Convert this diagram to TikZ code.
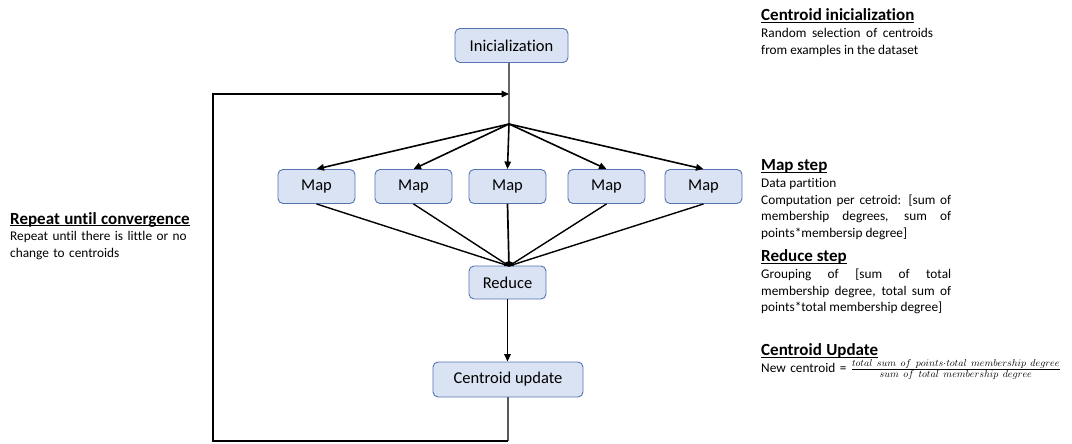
\documentclass[tikz,border=0pt]{standalone}
\usepackage{fontspec}
\setmainfont{Carlito}[Ligatures=NoCommon]
\usetikzlibrary{arrows.meta}
\definecolor{boxfill}{RGB}{218,227,243}
\definecolor{boxline}{RGB}{84,116,176}
\newcommand{\ultitle}[1]{\setbox0\hbox{\fontsize{17}{21}\selectfont\bfseries #1}\rlap{\rule[-2.4pt]{\wd0}{1.4pt}}\box0}

\begin{document}
\begin{tikzpicture}[x=1pt,y=1pt,
  stepbox/.style={draw=boxline,fill=boxfill,line width=0.9pt,rounded corners=5pt,
    minimum height=34pt,inner sep=0pt,font=\fontsize{16.5}{20}\selectfont},
  flow/.style={line width=1.6pt,-{Triangle[length=7.5pt,width=6.5pt]}},
  note/.style={anchor=base west,inner sep=0pt,text width=#1,align=justify,
    font=\fontsize{13.3}{16.7}\selectfont}]
\useasboundingbox (0,0) rectangle (1072,-444);

\node[stepbox,minimum width=113pt] (init) at (511.5,-45.5) {Inicialization};
\node[stepbox,minimum width=77pt] (map1) at (316.5,-186.5) {Map};
\node[stepbox,minimum width=77pt] (map2) at (413.5,-186.5) {Map};
\node[stepbox,minimum width=77pt] (map3) at (507.5,-186.5) {Map};
\node[stepbox,minimum width=77pt] (map4) at (606.5,-186.5) {Map};
\node[stepbox,minimum width=77pt] (map5) at (703.5,-186.5) {Map};
\node[stepbox,minimum width=77pt,minimum height=33pt] (reduce) at (507.5,-282.5) {Reduce};
\node[stepbox,minimum width=150pt,minimum height=35pt] (update) at (508,-379.5) {Centroid update};

\coordinate (fan) at (509,-124);
\coordinate (entry) at (509,-94);
\coordinate (join) at (509,-266);
\coordinate (corner) at (213,-441);

% start and fan out to the maps
\draw[gray!80!black,line width=1.2pt] (fan |- init.south) -- (fan);
\foreach \m in {map1,map2,map3,map4,map5}
  \draw[flow] (fan) -- (\m.north);

% maps into reduce
\foreach \m in {map1,map2,map4,map5}
  \draw[line width=1.4pt] (\m.south) -- (join);
\draw[line width=1.7pt] (map3.south) -- (join);
\fill (join) ++(-5,0) arc[start angle=180,end angle=0,radius=5];

\draw[flow] (reduce.south) -- (reduce.south |- update.north);

% loop back
\draw[gray!70!black,line width=1.3pt] (update.south) -- (update.south |- corner);
\draw[flow] (update.south |- corner) -- (corner) |- (entry);

% notes
\node[note=172pt] (initnote) at (761,-21) {\ultitle{Centroid inicialization}\par
  Random selection of centroids\linebreak from examples in the dataset};
\node[note=190pt] (mapnote) at (761,-170.7) {\ultitle{Map step}\par
  Data partition\par
  Computation per cetroid: [sum of\linebreak membership degrees, sum of\linebreak points*membersip degree]};
\node[note=190pt] (reducenote) at (761,-261.7) {\ultitle{Reduce step}\par
  Grouping of [sum of total\linebreak membership degree, total sum of\linebreak points*total membership degree]};
\node[note=305pt,align=left] (updatenote) at (761,-355.7) {\ultitle{Centroid Update}\par
  \mbox{New centroid = {\fontsize{14.6}{18}\selectfont$\frac{total\ sum\ of\ points\cdot total\ membership\ degree}{sum\ of\ total\ membership\ degree}$}}};
\node[note=220pt,align=left] (repeatnote) at (10,-224) {\ultitle{Repeat until convergence}\\
  Repeat until there is little or no\\ change to centroids};

\end{tikzpicture}
\end{document}
